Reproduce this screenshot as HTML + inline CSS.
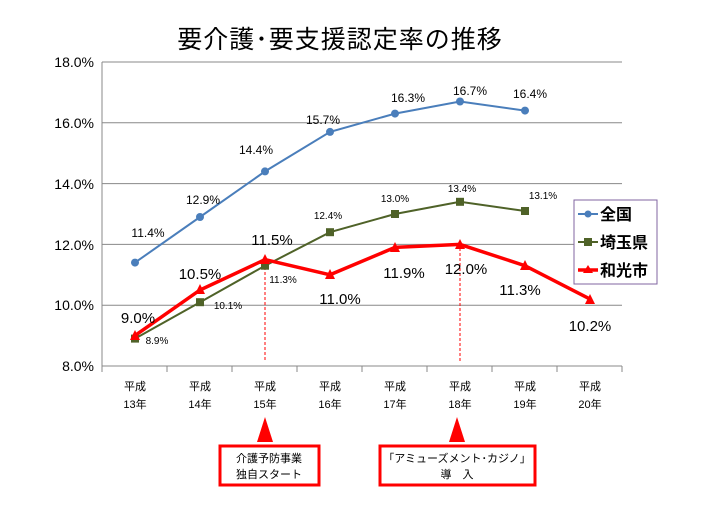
<!DOCTYPE html>
<html><head><meta charset="utf-8"><style>
html,body{margin:0;padding:0;background:#fff;}
svg{display:block;font-family:"Liberation Sans","Noto Sans CJK JP",sans-serif;}
</style></head><body>
<svg width="720" height="510" viewBox="0 0 720 510" xmlns="http://www.w3.org/2000/svg">
<rect width="720" height="510" fill="#fff"/>
<text x="340" y="48" font-size="25" letter-spacing="1" text-anchor="middle" fill="#000">要介護･要支援認定率の推移</text>
<g stroke="#888" stroke-width="1">
<line x1="102" y1="62" x2="622" y2="62"/>
<line x1="102" y1="122.8" x2="622" y2="122.8"/>
<line x1="102" y1="183.6" x2="622" y2="183.6"/>
<line x1="102" y1="244.4" x2="622" y2="244.4"/>
<line x1="102" y1="305.2" x2="622" y2="305.2"/>
<line x1="102" y1="366" x2="622" y2="366"/>
<line x1="102" y1="62" x2="102" y2="366"/>
<line x1="102" y1="366" x2="102" y2="372"/><line x1="167" y1="366" x2="167" y2="372"/><line x1="232" y1="366" x2="232" y2="372"/><line x1="297" y1="366" x2="297" y2="372"/><line x1="362" y1="366" x2="362" y2="372"/><line x1="427" y1="366" x2="427" y2="372"/><line x1="492" y1="366" x2="492" y2="372"/><line x1="557" y1="366" x2="557" y2="372"/><line x1="622" y1="366" x2="622" y2="372"/>
</g>
<g font-size="14" text-anchor="end" fill="#000">
<text x="94" y="67">18.0%</text><text x="94" y="128">16.0%</text><text x="94" y="189">14.0%</text><text x="94" y="250">12.0%</text><text x="94" y="310">10.0%</text><text x="94" y="371">8.0%</text>
</g>
<g font-size="11" text-anchor="middle" fill="#000">
<text x="135" y="390">平成</text><text x="135" y="408">13年</text>
<text x="200" y="390">平成</text><text x="200" y="408">14年</text>
<text x="265" y="390">平成</text><text x="265" y="408">15年</text>
<text x="330" y="390">平成</text><text x="330" y="408">16年</text>
<text x="395" y="390">平成</text><text x="395" y="408">17年</text>
<text x="460" y="390">平成</text><text x="460" y="408">18年</text>
<text x="525" y="390">平成</text><text x="525" y="408">19年</text>
<text x="590" y="390">平成</text><text x="590" y="408">20年</text>
</g>
<g stroke="#f00" stroke-width="1" stroke-dasharray="3,2">
<line x1="265" y1="262" x2="265" y2="362"/>
<line x1="460" y1="248" x2="460" y2="362"/>
</g>
<polyline fill="none" stroke="#4a7ebb" stroke-width="2" points="135,262.6 200,217 265,171.4 330,131.9 395,113.6 460,101.5 525,110.6"/>
<g fill="#4a7ebb">
<circle cx="135" cy="262.6" r="4"/><circle cx="200" cy="217" r="4"/><circle cx="265" cy="171.4" r="4"/><circle cx="330" cy="131.9" r="4"/><circle cx="395" cy="113.6" r="4"/><circle cx="460" cy="101.5" r="4"/><circle cx="525" cy="110.6" r="4"/>
</g>
<polyline fill="none" stroke="#4f6228" stroke-width="2" points="135,338.6 200,302.2 265,265.7 330,232.2 395,214 460,201.8 525,211"/>
<g fill="#4f6228">
<rect x="131" y="334.6" width="8" height="8"/><rect x="196" y="298.2" width="8" height="8"/><rect x="261" y="261.7" width="8" height="8"/><rect x="326" y="228.2" width="8" height="8"/><rect x="391" y="210" width="8" height="8"/><rect x="456" y="197.8" width="8" height="8"/><rect x="521" y="207" width="8" height="8"/>
</g>
<polyline fill="none" stroke="#f00" stroke-width="3.5" points="135,335.6 200,290 265,259.6 330,274.8 395,247.4 460,244.4 525,265.7 590,299.1"/>
<g fill="#f00">
<polygon points="135,330 130,340 140,340"/><polygon points="200,284 195,294 205,294"/><polygon points="265,254 260,264 270,264"/><polygon points="330,269 325,279 335,279"/><polygon points="395,242 390,252 400,252"/><polygon points="460,239 455,249 465,249"/><polygon points="525,260 520,270 530,270"/><polygon points="590,294 585,304 595,304"/>
</g>
<g font-size="12" text-anchor="middle" fill="#000">
<text x="148" y="237">11.4%</text><text x="203" y="204">12.9%</text><text x="256" y="154">14.4%</text><text x="323" y="124">15.7%</text><text x="408" y="102">16.3%</text><text x="470" y="95">16.7%</text><text x="530" y="98">16.4%</text>
</g>
<g font-size="10" text-anchor="middle" fill="#000">
<text x="157" y="344">8.9%</text><text x="228" y="309">10.1%</text><text x="283" y="283">11.3%</text><text x="328" y="219">12.4%</text><text x="395" y="202">13.0%</text><text x="462" y="192">13.4%</text><text x="543" y="199">13.1%</text>
</g>
<g font-size="15" text-anchor="middle" fill="#000">
<text x="138" y="323">9.0%</text><text x="200" y="279">10.5%</text><text x="272" y="245">11.5%</text><text x="340" y="304">11.0%</text><text x="404" y="278">11.9%</text><text x="466" y="274">12.0%</text><text x="520" y="295">11.3%</text><text x="590" y="331">10.2%</text>
</g>
<rect x="574" y="200" width="83" height="84" fill="#fff" stroke="#8064a2" stroke-width="1"/>
<line x1="578" y1="214" x2="598" y2="214" stroke="#4a7ebb" stroke-width="2"/><circle cx="588" cy="214" r="3.5" fill="#4a7ebb"/>
<line x1="578" y1="242" x2="598" y2="242" stroke="#4f6228" stroke-width="2"/><rect x="584" y="238" width="8" height="8" fill="#4f6228"/>
<line x1="578" y1="270" x2="598" y2="270" stroke="#f00" stroke-width="3.5"/><polygon points="588,265 583,273 593,273" fill="#f00"/>
<g font-size="16" font-weight="bold" fill="#000">
<text x="600" y="220">全国</text><text x="600" y="248">埼玉県</text><text x="600" y="276">和光市</text>
</g>
<polygon points="265,417 257,442 273,442" fill="#f00"/>
<polygon points="457,417 449,442 465,442" fill="#f00"/>
<rect x="220" y="446" width="99" height="39" fill="#fff" stroke="#f00" stroke-width="3"/>
<rect x="380" y="446" width="155" height="39" fill="#fff" stroke="#f00" stroke-width="3"/>
<g font-size="11" text-anchor="middle" fill="#000">
<text x="269" y="462">介護予防事業</text><text x="269" y="478">独自スタート</text>
<text x="457" y="462">「アミューズメント･カジノ」</text><text x="457" y="478">導　入</text>
</g>
</svg>
</body></html>
